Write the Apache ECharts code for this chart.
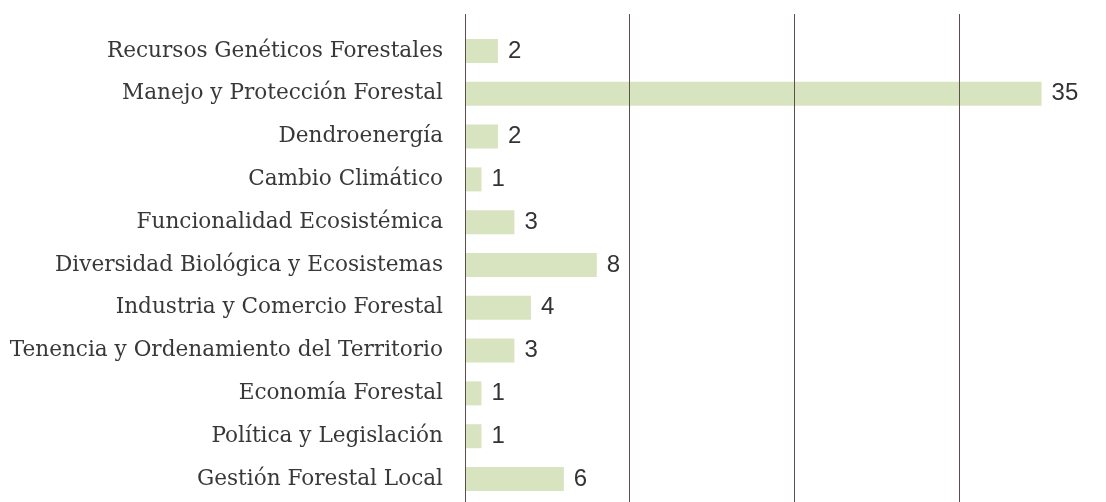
<!DOCTYPE html>
<html>
<head>
<meta charset="utf-8">
<script src="https://cdn.jsdelivr.net/npm/echarts@6/dist/echarts.min.js"></script>
<style>
  html, body { margin: 0; padding: 0; background: #fff; }
  #chart { width: 1106px; height: 502px; }
</style>
</head>
<body>
<div id="chart"></div>
<script>
  // categories from top to bottom
  var categories = [
    'Recursos Genéticos Forestales',
    'Manejo y Protección Forestal',
    'Dendroenergía',
    'Cambio Climático',
    'Funcionalidad Ecosistémica',
    'Diversidad Biológica y Ecosistemas',
    'Industria y Comercio Forestal',
    'Tenencia y Ordenamiento del Territorio',
    'Economía Forestal',
    'Política y Legislación',
    'Gestión Forestal Local'
  ];
  var values = [2, 35, 2, 1, 3, 8, 4, 3, 1, 1, 6];

  var axisMax = 38;
  var axisStep = 10;

  var chart = echarts.init(document.getElementById('chart'));

  var option = {
    animation: false,
    backgroundColor: '#fff',
    grid: [
      // grid for the vertical lines (taller than the bars area)
      { left: 465, right: 15, top: 14, bottom: 0 },
      // grid for the bars
      { left: 465, right: 15, top: 29.6, bottom: 1.6 }
    ],
    xAxis: [
      {
        gridIndex: 0,
        type: 'value',
        min: 0,
        max: axisMax,
        interval: axisStep,
        z: 5,
        axisLine: { show: false },
        axisTick: { show: false },
        axisLabel: { show: false },
        splitLine: {
          show: true,
          showMaxLine: false,
          lineStyle: { color: '#5b4f4c', width: 1 }
        }
      },
      {
        gridIndex: 1,
        type: 'value',
        min: 0,
        max: axisMax,
        interval: axisStep,
        axisLine: { show: false },
        axisTick: { show: false },
        axisLabel: { show: false },
        splitLine: { show: false }
      }
    ],
    yAxis: [
      {
        gridIndex: 0,
        type: 'value',
        show: false
      },
      {
        gridIndex: 1,
        type: 'category',
        inverse: true,
        data: categories,
        axisLine: { show: false },
        axisTick: { show: false },
        axisLabel: {
          margin: 22,
          color: '#383838',
          fontFamily: 'DejaVu Serif',
          fontSize: 21.6
        }
      }
    ],
    series: [
      {
        type: 'bar',
        xAxisIndex: 1,
        yAxisIndex: 1,
        data: values,
        barWidth: 24,
        itemStyle: { color: '#d8e4bf' },
        label: {
          show: true,
          position: 'right',
          distance: 10,
          color: '#333',
          fontFamily: 'Liberation Sans',
          fontSize: 24
        }
      }
    ]
  };

  chart.setOption(option);
  window.addEventListener('resize', function () {
    chart.resize();
  });
</script>
</body>
</html>
